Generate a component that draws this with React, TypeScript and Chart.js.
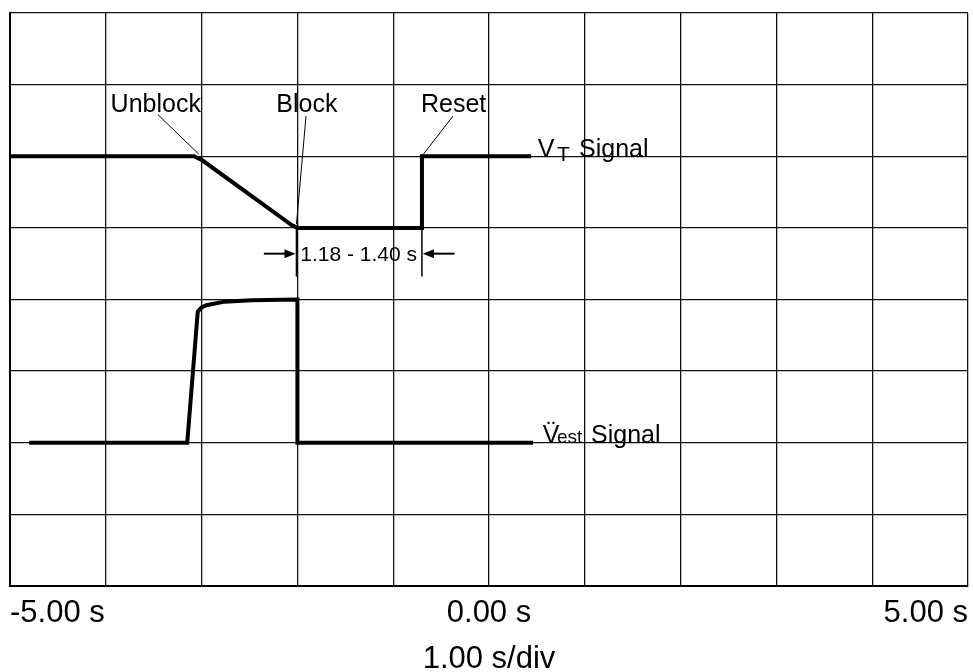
import React, { useEffect, useRef } from "react";
import { Chart, registerables } from "chart.js";

Chart.register(...registerables);

// Time (s) and level (divisions) of the V_T signal
const vtTime = [-5.0, -3.08, -3.0, -2.06, -2.0, -0.7, -0.7, 0.44];
const vtLevel = [6.0, 6.0, 5.95, 5.04, 5.0, 5.0, 6.0, 6.0];

// Time (s) and level (divisions) of the V_est signal
const vestTime = [-4.8, -3.15, -3.04, -3.0, -2.95, -2.76, -2.48, -2.0, -2.0, 0.46];
const vestLevel = [2.0, 2.0, 3.83, 3.89, 3.92, 3.97, 3.99, 4.0, 2.0, 2.0];

// Axis tick labels
const tickValues = [-5, 0, 5];
const tickLabels = ["-5.00 s", "0.00 s", "5.00 s"];
const axisTitle = "1.00 s/div";

const FONT = "'Liberation Sans', Arial, Helvetica, sans-serif";

const annotationPlugin = {
  id: "scopeAnnotations",
  afterDatasetsDraw(chart: any) {
    const ctx = chart.ctx;
    const xs = chart.scales.x;
    const ys = chart.scales.y;
    const px = (v: number) => xs.getPixelForValue(v);
    const py = (v: number) => ys.getPixelForValue(v);
    ctx.save();
    ctx.fillStyle = "#000";
    ctx.strokeStyle = "#000";
    ctx.textAlign = "left";
    ctx.textBaseline = "alphabetic";

    const text = (s: string, t: number, v: number, size: number) => {
      ctx.font = `${size}px ${FONT}`;
      ctx.fillText(s, px(t), py(v));
    };
    const line = (t1: number, v1: number, t2: number, v2: number, w: number) => {
      ctx.lineWidth = w;
      ctx.beginPath();
      ctx.moveTo(px(t1), py(v1));
      ctx.lineTo(px(t2), py(v2));
      ctx.stroke();
    };

    // event labels and leaders
    text("Unblock", -3.95, 6.62, 25);
    text("Block", -2.22, 6.62, 25);
    text("Reset", -0.71, 6.62, 25);
    line(-3.455, 6.58, -3.03, 6.03, 1);
    line(-1.91, 6.56, -2.01, 5.05, 1);
    line(-0.376, 6.56, -0.69, 6.02, 1);

    // signal names
    text("V", 0.51, 5.99, 25);
    text("T", 0.71, 5.93, 21);
    text("Signal", 0.94, 5.99, 25);
    text("V\u0308", 0.56, 2.0, 25);
    text("est", 0.71, 2.0, 19);
    text("Signal", 1.065, 2.0, 25);

    // timing dimension
    line(-2.01, 5.0, -2.01, 4.32, 1.5);
    line(-0.7, 5.0, -0.7, 4.32, 1.5);
    const ay = py(4.64);
    const arrow = (xFrom: number, xTo: number) => {
      const dir = Math.sign(xTo - xFrom);
      ctx.lineWidth = 2;
      ctx.beginPath();
      ctx.moveTo(xFrom, ay);
      ctx.lineTo(xTo - dir * 8, ay);
      ctx.stroke();
      ctx.beginPath();
      ctx.moveTo(xTo, ay);
      ctx.lineTo(xTo - dir * 11, ay - 4.5);
      ctx.lineTo(xTo - dir * 11, ay + 4.5);
      ctx.closePath();
      ctx.fill();
    };
    arrow(px(-2.35), px(-2.02));
    arrow(px(-0.36), px(-0.69));
    ctx.font = `21px ${FONT}`;
    ctx.textBaseline = "middle";
    ctx.fillText("1.18 - 1.40 s", px(-1.97), ay + 2);
    ctx.restore();
  },
};

export default function App() {
  const ref = useRef<HTMLCanvasElement | null>(null);
  useEffect(() => {
    if (!ref.current) return;
    const vt = vtTime.map((t, i) => ({ x: t, y: vtLevel[i] }));
    const vest = vestTime.map((t, i) => ({ x: t, y: vestLevel[i] }));
    const chart = new Chart(ref.current, {
      type: "scatter",
      data: {
        datasets: [
          { label: "VT Signal", data: vt, showLine: true, borderColor: "#000", borderWidth: 4, pointRadius: 0, tension: 0, borderJoinStyle: "miter" },
          { label: "Vest Signal", data: vest, showLine: true, borderColor: "#000", borderWidth: 4, pointRadius: 0, tension: 0, borderJoinStyle: "miter" },
        ],
      },
      options: {
        animation: false,
        responsive: false,
        devicePixelRatio: 1,
        layout: { padding: { left: 10, right: 5, top: 13, bottom: 0 } },
        plugins: { legend: { display: false }, tooltip: { enabled: false } },
        scales: {
          x: {
            type: "linear",
            min: -5,
            max: 5,
            grid: { color: "#111", lineWidth: 1.3, drawTicks: false },
            border: { color: "#000", width: 2 },
            ticks: {
              stepSize: 1,
              autoSkip: false,
              maxRotation: 0,
              align: "inner",
              padding: 9,
              color: "#000",
              font: { size: 31, family: FONT },
              callback: (v: any) => {
                const i = tickValues.indexOf(Number(v));
                return i >= 0 ? tickLabels[i] : "";
              },
            },
            title: { display: true, text: axisTitle, color: "#000", padding: { top: 0, bottom: 0 }, font: { size: 31, family: FONT, lineHeight: 0.8 } },
            afterFit: (s: any) => {
              s.height = 86;
              s.paddingLeft = 0;
              s.paddingRight = 0;
            },
          },
          y: {
            min: 0,
            max: 8,
            grid: { color: "#111", lineWidth: 1.3, drawTicks: false },
            border: { color: "#000", width: 2 },
            ticks: { stepSize: 1, display: false },
            afterFit: (s: any) => {
              s.width = 0;
              s.paddingTop = 0;
              s.paddingBottom = 0;
            },
          },
        },
      },
      plugins: [annotationPlugin],
    } as any);
    return () => chart.destroy();
  }, []);
  return (
    <div style={{ position: "fixed", left: 0, top: 0, width: 973, height: 672, background: "#fff" }}>
      <canvas ref={ref} width={973} height={672} />
    </div>
  );
}
